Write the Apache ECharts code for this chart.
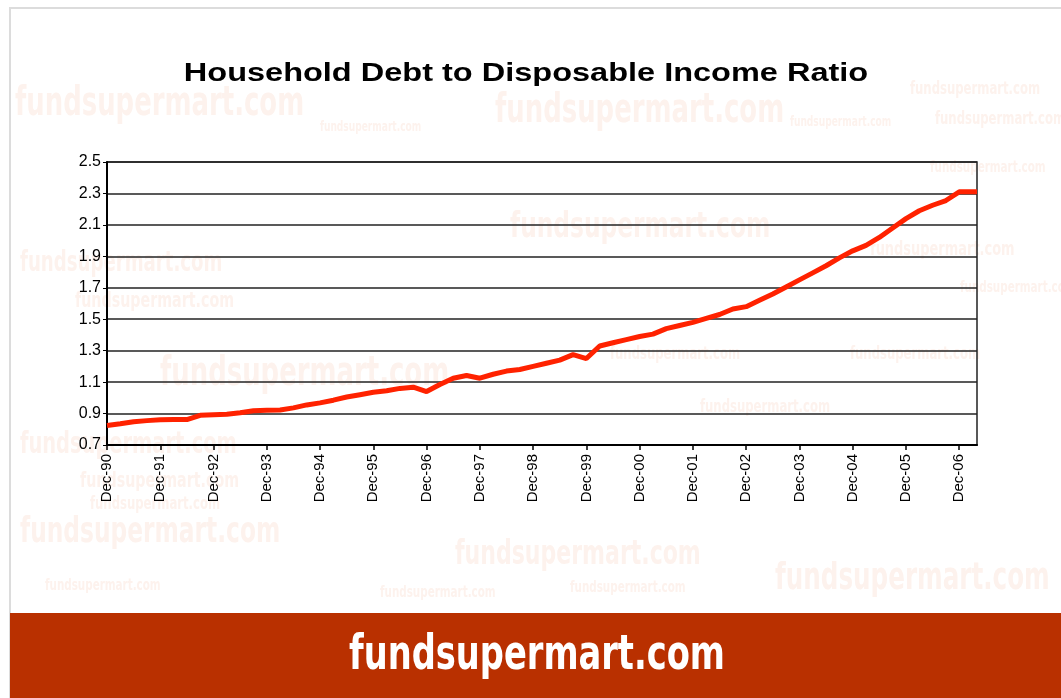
<!DOCTYPE html>
<html>
<head>
<meta charset="utf-8">
<script src="https://cdn.jsdelivr.net/npm/echarts@6/dist/echarts.min.js"></script>
<style>
html,body{margin:0;padding:0;background:#fff;}
#chart{width:1061px;height:698px;}
</style>
</head>
<body>
<div id="chart"></div>
<script>
// months elapsed since Dec-1990 (0 = Dec-90)
const months = [0,3,6,9,12,15,18,21,24,27,30,33,36,39,42,45,48,51,54,57,60,63,66,69,72,75,78,81,84,87,90,93,96,99,102,105,108,111,114,117,120,123,126,129,132,135,138,141,144,147,150,153,156,159,162,165,168,171,174,177,180,183,186,189,192,195,196];
const ratio = [0.824,0.835,0.848,0.855,0.861,0.862,0.862,0.889,0.893,0.895,0.905,0.918,0.921,0.923,0.936,0.955,0.968,0.985,1.005,1.02,1.035,1.045,1.06,1.068,1.04,1.085,1.125,1.142,1.125,1.15,1.17,1.18,1.2,1.22,1.24,1.275,1.25,1.33,1.35,1.37,1.39,1.405,1.44,1.46,1.48,1.505,1.53,1.565,1.58,1.62,1.66,1.705,1.75,1.795,1.84,1.89,1.935,1.97,2.02,2.08,2.14,2.19,2.225,2.255,2.31,2.31,2.31];
const yearLabels = ['Dec-90','Dec-91','Dec-92','Dec-93','Dec-94','Dec-95','Dec-96','Dec-97','Dec-98','Dec-99','Dec-00','Dec-01','Dec-02','Dec-03','Dec-04','Dec-05','Dec-06'];
const titleText = 'Household Debt to Disposable Income Ratio';
const bannerText = 'fundsupermart.com';

const chart = echarts.init(document.getElementById('chart'), null, {renderer:'canvas'});
const wm = '#fdf2ed';
const condensed = '"Liberation Sans Narrow", "DejaVu Sans Condensed", "Roboto Condensed", sans-serif';
const watermarks = [
  [15,85,40],[495,92,40],[510,210,36],[20,250,28],[75,290,22],[160,355,40],[20,430,30],[20,515,36],[455,538,34],[775,560,38],[610,345,18],[850,345,18],[910,80,18],[935,110,18],[930,160,16],[870,240,20],[960,280,16],[700,398,18],[80,470,22],[90,495,18],[320,120,14],[790,115,14],[380,585,16],[570,580,16],[45,578,16]
];
const graphics = [
  {type:'rect', z:-10, shape:{x:10,y:8,width:1060,height:700}, style:{fill:'#fff', stroke:'#dcdcdc', lineWidth:2}}
];
watermarks.forEach(w=>graphics.push({type:'text', z:-5, x:w[0], y:w[1], scaleX:0.72, style:{text:bannerText, fill:wm, font:'bold '+w[2]+'px '+condensed}}));
graphics.push({type:'rect', shape:{x:10,y:613,width:1051,height:85}, style:{fill:'#b93000'}});
graphics.push({type:'text', x:537, y:657, scaleX:0.78, style:{text:bannerText, fill:'#fff', textAlign:'center', textVerticalAlign:'middle', font:'bold 48px '+condensed}});
graphics.push({type:'text', x:526, y:74, scaleX:1.3, style:{text:titleText, fill:'#000', textAlign:'center', textVerticalAlign:'middle', font:'bold 25px "Liberation Sans", Arial, sans-serif'}});

chart.setOption({
  animation:false,
  grid:{left:107, right:84, top:162, bottom:253, show:true, borderColor:'#222', borderWidth:1.5, backgroundColor:'transparent'},
  graphic:graphics,
  xAxis:{type:'value', min:0, max:196, interval:12,
    axisLine:{show:true, onZero:false, lineStyle:{color:'#000', width:2}},
    axisTick:{show:true, length:5, lineStyle:{color:'#000', width:1.5}},
    splitLine:{show:false},
    axisLabel:{rotate:90, fontFamily:'Liberation Sans, Arial', fontSize:15, color:'#000', margin:9,
      showMaxLabel:false,
      formatter:function(v){const i=Math.round(v/12); return (v%12===0 && yearLabels[i])?yearLabels[i]:'';}}
  },
  yAxis:{type:'value', min:0.7, max:2.5, interval:0.2,
    axisLine:{show:true, lineStyle:{color:'#000', width:2}},
    axisTick:{show:true, length:4, lineStyle:{color:'#000'}},
    splitLine:{show:true, lineStyle:{color:'#222', width:1.5}},
    axisLabel:{fontFamily:'Liberation Sans, Arial', fontSize:16, color:'#000', margin:6,
      formatter:function(v){return v.toFixed(1);}}
  },
  series:[{type:'line', data:months.map((m,i)=>[m, ratio[i]]), showSymbol:false, smooth:false,
    lineStyle:{color:'#ff2200', width:5}, itemStyle:{color:'#ff2200'}}]
});
</script>
</body>
</html>
